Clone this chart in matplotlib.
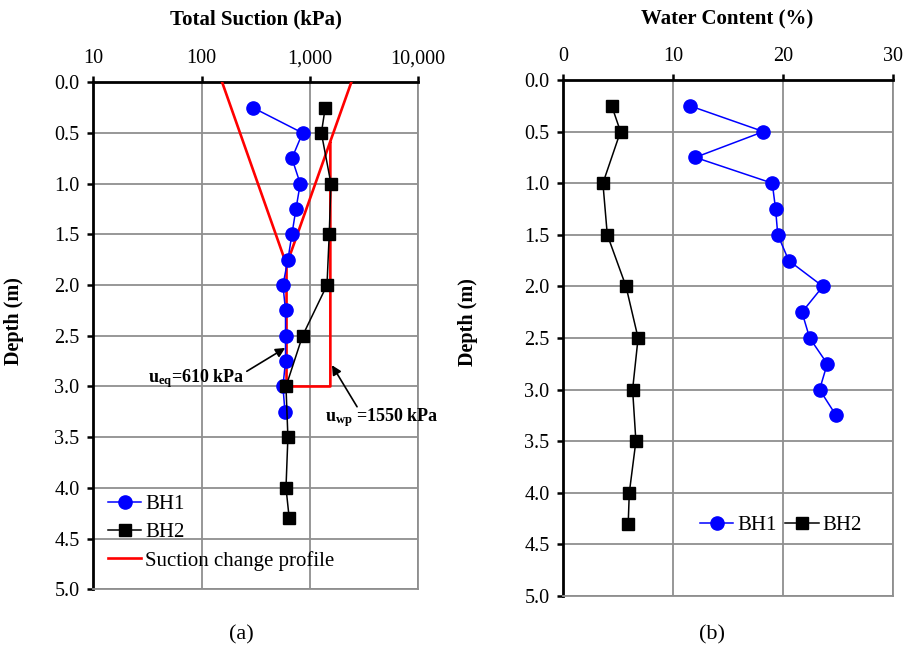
import matplotlib
matplotlib.use("Agg")
import matplotlib.pyplot as plt
from matplotlib.ticker import FixedLocator, FixedFormatter
import numpy as np

plt.rcParams['font.family'] = ['Liberation Serif', 'DejaVu Serif']
plt.rcParams['mathtext.fontset'] = 'custom'
plt.rcParams['mathtext.rm'] = 'Liberation Serif'
plt.rcParams['mathtext.bf'] = 'Liberation Serif:bold'

# total suction (kPa)
depth_bh1 = [0.25, 0.5, 0.75, 1.0, 1.25, 1.5, 1.75, 2.0, 2.25, 2.5, 2.75, 3.0, 3.25]
suction_bh1 = [298, 858, 684, 817, 745, 684, 628, 565, 597, 597, 597, 565, 590]
depth_bh2 = [0.25, 0.5, 1.0, 1.5, 2.0, 2.5, 3.0, 3.5, 4.0, 4.3]
suction_bh2 = [1390, 1280, 1570, 1513, 1443, 858, 603, 628, 603, 646]

# suction change profile (NaN breaks the line into two pieces)
profile_suction = [155, 610, 2420, np.nan, 610, 610, 1550, 1550]
profile_depth = [0.0, 1.8, 0.0, np.nan, 1.8, 3.0, 3.0, 0.6]

# water content (%)
wc_bh1 = [11.5, 18.2, 12.0, 19.0, 19.3, 19.5, 20.5, 23.6, 21.7, 22.4, 24.0, 23.3, 24.8]
wc_bh2 = [4.4, 5.2, 3.6, 4.0, 5.7, 6.8, 6.3, 6.6, 6.0, 5.9]

suction_ticks = [10, 100, 1000, 10000]
suction_labels = ['10', '100', '1,000', '10,000']
wc_ticks = [0, 10, 20, 30]
depth_ticks = np.arange(0, 5.01, 0.5)

grid_c = '#8f8f8f'
fs = 14.5

fig = plt.figure(figsize=(9.17, 6.52), dpi=100)
ax1 = fig.add_axes([0.1018, 0.0962, 0.354, 0.7776])
ax2 = fig.add_axes([0.6143, 0.0859, 0.3598, 0.7914])


def style(ax):
    ax.set_ylim(5, 0)
    ax.set_yticks(depth_ticks)
    ax.set_yticklabels(['%.1f' % d for d in depth_ticks])
    ax.xaxis.tick_top()
    ax.grid(True, color=grid_c, lw=1.3)
    ax.set_axisbelow(True)
    ax.tick_params(axis='both', direction='out', length=4, width=1.8,
                   labelsize=fs, pad=6, color='black')
    for s in ['top', 'left']:
        ax.spines[s].set_linewidth(2)
        ax.spines[s].set_color('black')
    for s in ['bottom', 'right']:
        ax.spines[s].set_linewidth(1.3)
        ax.spines[s].set_color(grid_c)
    ax.set_ylabel('Depth (m)', fontsize=fs, fontweight='bold')


# (a) total suction
style(ax1)
ax1.set_xscale('log')
ax1.set_xlim(10, 10000)
ax1.xaxis.set_major_locator(FixedLocator(suction_ticks))
ax1.xaxis.set_major_formatter(FixedFormatter(suction_labels))
ax1.xaxis.set_minor_locator(FixedLocator([]))
ax1.plot(suction_bh1, depth_bh1, '-o', color='#0000ff', lw=1.1, ms=9.5, label='BH1', zorder=4)
ax1.plot(suction_bh2, depth_bh2, '-s', color='black', lw=1.1, ms=8.5, label='BH2', zorder=5)
ax1.plot(profile_suction, profile_depth, '-', color='#ff0000', lw=1.9,
         label='Suction change profile', zorder=3)
ax1.yaxis.set_label_coords(-0.213, 0.53)

ax1.annotate('', xy=(593, 2.62), xytext=(262, 2.85),
             arrowprops=dict(arrowstyle='-|>', color='black', lw=1.2,
                             mutation_scale=14, shrinkA=0, shrinkB=0))
ax1.text(32, 2.92, r'$\mathbf{u_{eq}}$=610 kPa', fontsize=13, fontweight='bold',
         ha='left', va='center')
ax1.annotate('', xy=(1603, 2.79), xytext=(2735, 3.2),
             arrowprops=dict(arrowstyle='-|>', color='black', lw=1.2,
                             mutation_scale=14, shrinkA=0, shrinkB=0))
ax1.text(1390, 3.31, r'$\mathbf{u_{wp}}$ =1550 kPa', fontsize=13, fontweight='bold',
         ha='left', va='center')

ax1.legend(loc='lower left', bbox_to_anchor=(0.0, 0.008), frameon=False,
           fontsize=15, handlelength=1.6, handletextpad=0.2, labelspacing=0.4,
           borderaxespad=0.3)

# (b) water content
style(ax2)
ax2.set_xlim(0, 30)
ax2.set_xticks(wc_ticks)
ax2.plot(wc_bh1, depth_bh1, '-o', color='#0000ff', lw=1.1, ms=9.5, label='BH1', zorder=4)
ax2.plot(wc_bh2, depth_bh2, '-s', color='black', lw=1.1, ms=8.5, label='BH2', zorder=5)
ax2.yaxis.set_label_coords(-0.258, 0.53)
ax2.legend(loc='center', bbox_to_anchor=(0.66, 0.137), ncol=2, frameon=False,
           fontsize=15, handlelength=1.6, handletextpad=0.2, columnspacing=0.4)

fig.text(256 / 917, 1 - 19 / 652, 'Total Suction (kPa)', fontsize=15,
         fontweight='bold', ha='center', va='center')
fig.text(727 / 917, 1 - 19 / 652, 'Water Content (%)', fontsize=15,
         fontweight='bold', ha='center', va='center')
fig.text(241 / 917, 1 - 635 / 652, '(a)', fontsize=16, ha='center', va='center')
fig.text(712 / 917, 1 - 635 / 652, '(b)', fontsize=16, ha='center', va='center')

fig.savefig('out.png', dpi=100)
